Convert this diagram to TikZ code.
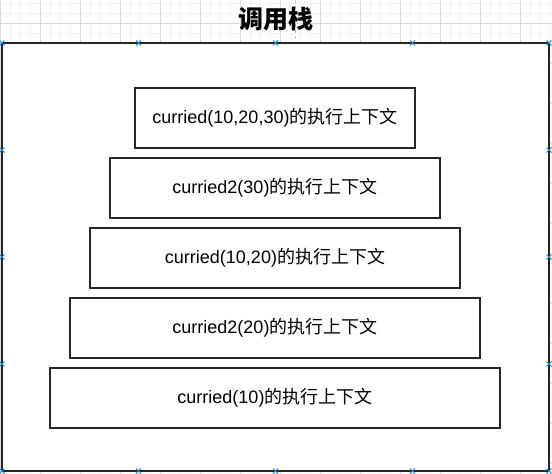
\documentclass[tikz,border=0pt]{standalone}
\usepackage{fontspec}
\setmainfont{Liberation Sans}
\newfontfamily\cjk{Noto Sans CJK SC}
\begin{document}
\begin{tikzpicture}[x=1pt,y=-1pt,
  frame/.style={draw=black!85,line width=2pt,fill=white},
  ctx/.style={draw=black!85,line width=2pt,fill=white,minimum height=60pt,inner sep=0pt,font=\fontsize{18}{21}\selectfont},
  handle/.style={draw=cyan!70!blue,line width=0.9pt},
  grid minor/.style={draw=black!5,line width=0.6pt},
  grid major/.style={draw=black!14,line width=0.6pt}]
\useasboundingbox (0,0) rectangle (552,474);
\fill[white] (0,0) rectangle (552,474);
% background grid
\foreach \i in {0,...,55} {\draw[grid minor] (\i*10,0) -- (\i*10,474);}
\foreach \j in {0,...,47} {\draw[grid minor] (0,\j*10+3) -- (552,\j*10+3);}
\foreach \i in {0,...,13} {\draw[grid major] (\i*40,0) -- (\i*40,474);}
\foreach \j in {0,...,12} {\draw[grid major] (0,\j*40+23) -- (552,\j*40+23);}
\draw[black!25,dashed,line width=0.6pt] (295,0) -- (295,42);
% outer frame
\node[frame,minimum width=547pt,minimum height=428pt,inner sep=0pt] (outer) at (275.5,257) {};
\node[font=\cjk\bfseries\fontsize{25}{30}\selectfont] (title) at (276,19.5) {调用栈};
% stack frames
\node[ctx,minimum width=280pt] (c1) at (275,118) {curried(10,20,30){\cjk 的执行上下文}};
\node[ctx,minimum width=330pt] (c2) at (275,188) {curried2(30){\cjk 的执行上下文}};
\node[ctx,minimum width=370pt] (c3) at (275,258) {curried(10,20){\cjk 的执行上下文}};
\node[ctx,minimum width=410pt] (c4) at (275,328) {curried2(20){\cjk 的执行上下文}};
\node[ctx,minimum width=450pt] (c5) at (275,398) {curried(10){\cjk 的执行上下文}};
% selection handles
\foreach \p in {(2,43),(138.5,43),(275.5,43),(412.5,43),(549,43),
                (2,150),(2,257),(2,364),(549,150),(549,257),(549,364),
                (2,471),(138.5,471),(275.5,471),(412.5,471),(549,471)} {
  \draw[handle] \p ++(-2.5,-2.5) -- ++(5,5) \p ++(-2.5,2.5) -- ++(5,-5);
}
\end{tikzpicture}
\end{document}
